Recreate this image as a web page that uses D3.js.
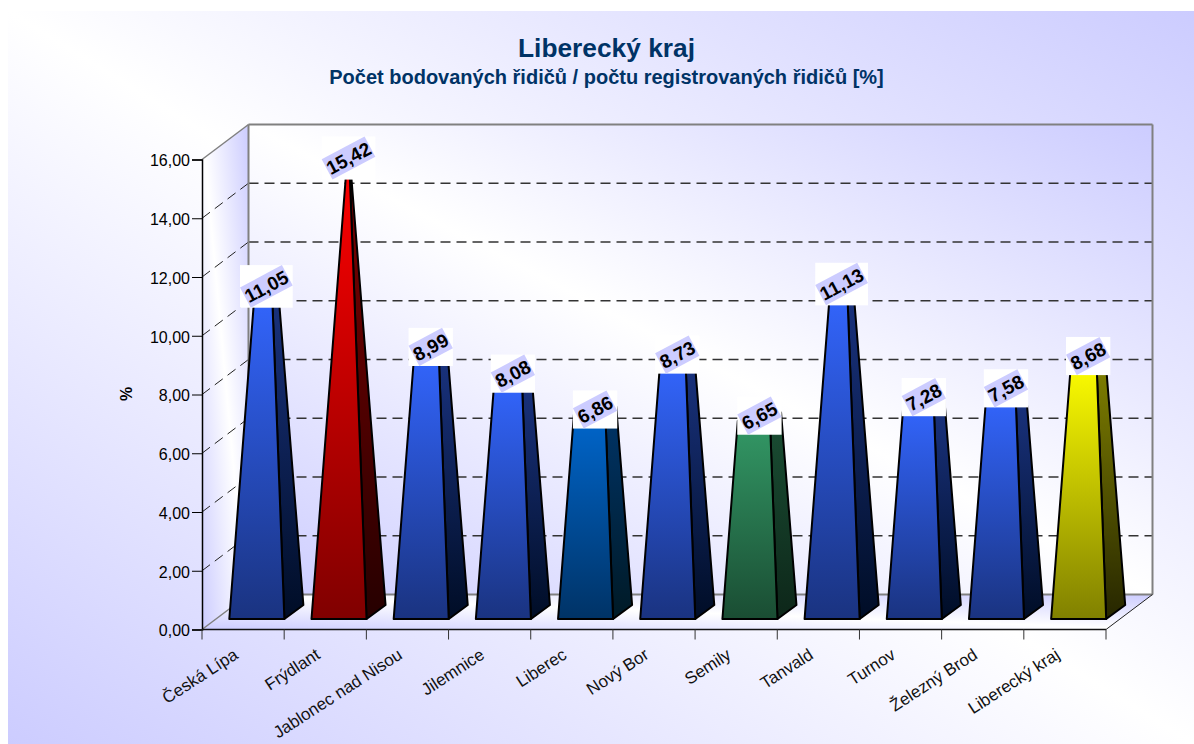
<!DOCTYPE html>
<html>
<head>
<meta charset="utf-8">
<script src="https://cdn.jsdelivr.net/npm/d3@7"></script>
<style>
  html, body { margin: 0; padding: 0; background: #fff; }
  svg { display: block; font-family: "Liberation Sans", Arial, sans-serif; }
</style>
</head>
<body>
<svg id="chart" width="1194" height="744"></svg>
<script>
// data
const categories = ["Česká Lípa", "Frýdlant", "Jablonec nad Nisou", "Jilemnice", "Liberec", "Nový Bor", "Semily", "Tanvald", "Turnov", "Železný Brod", "Liberecký kraj"];
const values = [11.05, 15.42, 8.99, 8.08, 6.86, 8.73, 6.65, 11.13, 7.28, 7.58, 8.68];
const yTicks = [0, 2, 4, 6, 8, 10, 12, 14, 16];
const titleText = "Liberecký kraj";
const subtitleText = "Počet bodovaných řidičů / počtu registrovaných řidičů [%]";
const yAxisLabel = "%";

// CONFIG
const yMax = 16;
const depthX = 46.5, depthY = 35;    // how far the back wall sits from the front axes
const barDepthX = 19, barDepthY = 14;
const bandFill = 0.67;

// [front top, front bottom, side top, side bottom]
const defaultColors = ["#3366ff", "#1a3380", "#1a3380", "#000d26"];
const specialColors = {
  "Frýdlant": ["#ff0000", "#800000", "#800000", "#260000"],
  "Liberec": ["#0066cc", "#003366", "#003366", "#001a26"],
  "Semily": ["#339966", "#1a4d33", "#1a4d33", "#0d2619"],
  "Liberecký kraj": ["#ffff00", "#808000", "#808000", "#262600"]
};

const svg = d3.select("#chart");
const defs = svg.append("defs");

const x = d3.scaleBand().domain(categories).range([202, 1106]);
const y = d3.scaleLinear().domain([0, yMax]).range([629.5, 159.5]);

function addGradient(id, x1, y1, x2, y2, stops) {
  const g = defs.append("linearGradient").attr("id", id)
    .attr("gradientUnits", "userSpaceOnUse")
    .attr("x1", x1).attr("y1", y1).attr("x2", x2).attr("y2", y2);
  stops.forEach(s => g.append("stop").attr("offset", s[0]).attr("stop-color", s[1]));
  return "url(#" + id + ")";
}
function polygon(points, fill, stroke, width) {
  return svg.append("polygon")
    .attr("points", points.map(p => p.join(",")).join(" "))
    .attr("fill", fill).attr("stroke", stroke || "none").attr("stroke-width", width || 0)
    .attr("stroke-linejoin", "round");
}

// page and walls all share one corner to corner gradient, relative to their own box
const diagGrad = defs.append("linearGradient").attr("id", "diagBg")
  .attr("x1", 0).attr("y1", 1).attr("x2", 1).attr("y2", 0);
diagGrad.append("stop").attr("offset", 0).attr("stop-color", "#ccccff");
diagGrad.append("stop").attr("offset", 0.5).attr("stop-color", "#ffffff");
diagGrad.append("stop").attr("offset", 1).attr("stop-color", "#ccccff");
const diagFill = "url(#diagBg)";

// page background, white strip left and top
svg.append("rect").attr("x", 8).attr("y", 11).attr("width", 1186).attr("height", 733).attr("fill", diagFill);

const x0 = x.range()[0], x1 = x.range()[1], y0 = y(0), yTop = y(yMax);

// walls
polygon([[x0 + depthX, yTop - depthY], [x1 + depthX, yTop - depthY], [x1 + depthX, y0 - depthY], [x0 + depthX, y0 - depthY]], diagFill);
polygon([[x0, yTop], [x0 + depthX, yTop - depthY], [x0 + depthX, y0 - depthY], [x0, y0]], diagFill);
polygon([[x0, y0], [x0 + depthX, y0 - depthY], [x1 + depthX, y0 - depthY], [x1, y0]], diagFill);

// dashed grid on back wall and left wall
yTicks.filter(d => d > 0 && d < yMax).forEach(d => {
  svg.append("line").attr("x1", x0 + depthX).attr("x2", x1 + depthX)
    .attr("y1", y(d) - depthY).attr("y2", y(d) - depthY)
    .attr("stroke", "#333").attr("stroke-width", 1.3).attr("stroke-dasharray", "10,6");
  svg.append("line").attr("x1", x0).attr("x2", x0 + depthX)
    .attr("y1", y(d)).attr("y2", y(d) - depthY)
    .attr("stroke", "#222").attr("stroke-dasharray", "10,6");
});

// wall edges
const edge = (a, b, c, d, col, w) => svg.append("line").attr("x1", a).attr("y1", b).attr("x2", c).attr("y2", d).attr("stroke", col).attr("stroke-width", w);
edge(x0, yTop, x0 + depthX, yTop - depthY, "#808080", 1.5);
edge(x0 + depthX, yTop - depthY, x1 + depthX, yTop - depthY, "#808080", 2);
edge(x0 + depthX, yTop - depthY, x0 + depthX, y0 - depthY, "#808080", 2);
edge(x1 + depthX, yTop - depthY, x1 + depthX, y0 - depthY, "#808080", 2);
edge(x0 + depthX, y0 - depthY, x1 + depthX, y0 - depthY, "#808080", 2);
edge(x0, y0, x0 + depthX, y0 - depthY, "#808080", 1.5);
edge(x1, y0, x1 + depthX, y0 - depthY, "#222", 1);

// axes
svg.append("g").attr("transform", "translate(" + x0 + ",0)")
  .call(d3.axisLeft(y).tickValues(yTicks).tickSize(10).tickPadding(2)
    .tickFormat(d => d3.format(".2f")(d).replace(".", ",")))
  .call(g => g.selectAll("text").attr("font-size", 16).attr("font-family", "Liberation Sans").attr("fill", "#000").attr("dy", "0.4em"))
  .call(g => g.select(".domain").attr("stroke", "#000").attr("stroke-width", 1.5));

const xAxis = svg.append("g").attr("transform", "translate(0," + y0 + ")");
xAxis.append("line").attr("x1", x0).attr("x2", x1).attr("stroke", "#111").attr("stroke-width", 1.5);
xAxis.selectAll("line.tick").data(d3.range(categories.length + 1)).enter().append("line")
  .attr("class", "tick")
  .attr("x1", i => x0 + i * x.step()).attr("x2", i => x0 + i * x.step())
  .attr("y1", 0).attr("y2", 10).attr("stroke", "#333");
xAxis.selectAll("text").data(categories).enter().append("text")
  .attr("text-anchor", "end")
  .attr("font-size", 17).attr("fill", "#111")
  .attr("transform", d => "translate(" + (x(d) + x.bandwidth() / 2 - 4) + ",28) rotate(-33)")
  .text(d => d);

// bars: truncated pyramids, apex sits over the centre of the base at yMax
const barW = x.bandwidth() * bandFill;
const baseShiftX = (depthX - barDepthX) / 2, baseShiftY = (depthY - barDepthY) / 2;

categories.forEach((cat, i) => {
  const v = values[i];
  const c = specialColors[cat] || defaultColors;
  const t = v / yMax;
  const left = x(cat) + (x.bandwidth() - barW) / 2 + baseShiftX;
  const base = y(0) - baseShiftY;
  const apex = [left + barW / 2 + barDepthX / 2, y(yMax) - baseShiftY - barDepthY / 2];
  const cut = p => [p[0] + t * (apex[0] - p[0]), p[1] + t * (apex[1] - p[1])];

  const fl = [left, base], fr = [left + barW, base], br = [left + barW + barDepthX, base - barDepthY];
  const tfl = cut(fl), tfr = cut(fr), tbr = cut(br);
  const tbl = cut([left + barDepthX, base - barDepthY]);

  polygon([fr, br, tbr, tfr], addGradient("side" + i, 0, tfr[1], 0, base, [[0, c[2]], [1, c[3]]]), "#000", 2);
  polygon([fl, fr, tfr, tfl], addGradient("front" + i, 0, tfl[1], 0, base, [[0, c[0]], [1, c[1]]]), "#000", 2);
  polygon([tfl, tfr, tbr, tbl], c[0], "#000", 1);
});

// value labels: white bounding box with a rotated lavender plate
const labelAngle = -28;
categories.forEach((cat, i) => {
  const v = values[i];
  const left = x(cat) + (x.bandwidth() - barW) / 2 + baseShiftX;
  const cx = left + barW / 2 + barDepthX / 2;
  const cy = y(v) - baseShiftY - barDepthY / 2 - 1;
  const g = svg.append("g").attr("transform", "translate(" + cx + "," + cy + ")");
  const white = g.append("rect").attr("fill", "#fff");
  const plate = g.append("rect").attr("fill", "#ccccff").attr("transform", "rotate(" + labelAngle + ")");
  const label = g.append("text").attr("transform", "rotate(" + labelAngle + ")")
    .attr("text-anchor", "middle").attr("dy", "0.36em")
    .attr("font-size", 19).attr("font-weight", "bold").attr("fill", "#000")
    .text(d3.format(".2f")(v).replace(".", ","));
  const w = label.node().getComputedTextLength() + 1, h = 23;
  plate.attr("x", -w / 2).attr("y", -h / 2).attr("width", w).attr("height", h);
  const rad = Math.abs(labelAngle) * Math.PI / 180;
  const bw = w * Math.cos(rad) + h * Math.sin(rad), bh = w * Math.sin(rad) + h * Math.cos(rad);
  white.attr("x", -bw / 2).attr("y", -bh / 2).attr("width", bw).attr("height", bh);
});

// titles
svg.append("text").attr("x", 606.5).attr("y", 57).attr("text-anchor", "middle")
  .attr("font-size", 26.3).attr("font-weight", "bold").attr("fill", "#003366").text(titleText);
svg.append("text").attr("x", 606.5).attr("y", 84).attr("text-anchor", "middle")
  .attr("font-size", 20).attr("font-weight", "bold").attr("fill", "#003366").text(subtitleText);
svg.append("text").attr("transform", "translate(132,394) rotate(-90)").attr("text-anchor", "middle")
  .attr("font-size", 16).attr("font-weight", "bold").attr("fill", "#000").text(yAxisLabel);
</script>
</body>
</html>
